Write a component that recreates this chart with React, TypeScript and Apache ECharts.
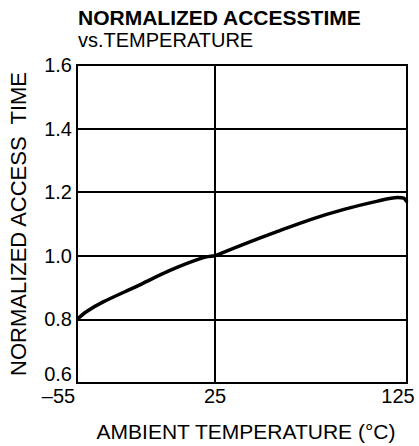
import React, { useEffect, useRef } from 'react';
import * as echarts from 'echarts';

const titleText = 'NORMALIZED ACCESSTIME';
const subtitleText = 'vs.TEMPERATURE';
const yAxisName = 'NORMALIZED ACCESS  TIME';
const xAxisName = 'AMBIENT TEMPERATURE (°C)';
const xTickValues = [-55, 25, 125];
const xTickLabels = ['–55', '25', '125'];
const yTickValues = [0.6, 0.8, 1.0, 1.2, 1.4, 1.6];

const temperatures = [-55, -49.4, -39.8, -20.4, -1.1, 18.2, 25, 39.8, 57.3, 74.7, 92.2, 109.7, 120.1, 123.3, 125];
const accessTime = [0.8, 0.825, 0.855, 0.904, 0.954, 0.994, 1.0, 1.036, 1.076, 1.114, 1.146, 1.172, 1.183, 1.181, 1.169];

const FONT = 'Liberation Sans, Arial, Helvetica, sans-serif';

const points = temperatures.map((t, i) => [t, accessTime[i]]);
const coldSide = points.filter((p) => p[0] <= 25);
const hotSide = points.filter((p) => p[0] >= 25);

const labelFor = (v: number) => {
  const idx = xTickValues.indexOf(Math.round(v));
  return idx >= 0 ? xTickLabels[idx] : '';
};

export default function App() {
  const ref = useRef<HTMLDivElement>(null);
  useEffect(() => {
    if (!ref.current) return;
    const chart = echarts.init(ref.current, null, { renderer: 'svg' });
    const gridCommon = {
      top: 65,
      height: 318,
      show: true,
      borderColor: '#000',
      borderWidth: 2,
      backgroundColor: 'transparent',
      containLabel: false,
    };
    const yCommon = {
      type: 'value',
      min: 0.6,
      max: 1.6,
      interval: 0.2,
      axisLine: { show: false },
      axisTick: { show: false },
      splitLine: { show: true, lineStyle: { color: '#000', width: 2 } },
    };
    const xCommon = {
      type: 'value',
      axisLine: { show: false },
      axisTick: { show: false },
      splitLine: { show: false },
    };
    chart.setOption({
      animation: false,
      backgroundColor: '#fff',
      title: {
        text: titleText,
        subtext: subtitleText,
        left: 78,
        top: 7,
        padding: 0,
        itemGap: 2,
        textStyle: { fontFamily: FONT, fontSize: 21, fontWeight: 'bold', color: '#000', lineHeight: 21 },
        subtextStyle: { fontFamily: FONT, fontSize: 20, color: '#000', lineHeight: 20 },
      },
      grid: [
        { ...gridCommon, left: 77, width: 138 },
        { ...gridCommon, left: 215, width: 192 },
      ],
      xAxis: [
        {
          ...xCommon,
          gridIndex: 0,
          min: -55,
          max: 25,
          axisLabel: {
            customValues: [-55, 25],
            margin: 3,
            fontFamily: FONT,
            fontSize: 20,
            color: '#000',
            formatter: (v: number) => (Math.round(v) === -55 ? '{l|' + labelFor(v) + '}' : labelFor(v)),
            rich: { l: { fontFamily: FONT, fontSize: 20, color: '#000', padding: [0, 37, 0, 0] } },
          },
        },
        {
          ...xCommon,
          gridIndex: 1,
          min: 25,
          max: 125,
          axisLabel: {
            customValues: [125],
            margin: 3,
            fontFamily: FONT,
            fontSize: 20,
            color: '#000',
            formatter: (v: number) => (Math.round(v) === 125 ? '{r|' + labelFor(v) + '}' : ''),
            rich: { r: { fontFamily: FONT, fontSize: 20, color: '#000', padding: [0, 18, 0, 0] } },
          },
        },
      ],
      yAxis: [
        {
          ...yCommon,
          gridIndex: 0,
          name: yAxisName,
          nameLocation: 'middle',
          nameGap: 48,
          nameTextStyle: { fontFamily: FONT, fontSize: 22, color: '#000' },
          axisLabel: {
            margin: 5,
            fontFamily: FONT,
            fontSize: 20,
            color: '#000',
            formatter: (v: number) => {
              const s = v.toFixed(1);
              return Math.abs(v - yTickValues[0]) < 1e-6 ? '{b|' + s + '}' : s;
            },
            rich: { b: { fontFamily: FONT, fontSize: 20, color: '#000', padding: [0, 0, 18, 0] } },
          },
        },
        { ...yCommon, gridIndex: 1, axisLabel: { show: false } },
      ],
      graphic: [
        {
          type: 'text',
          x: 246,
          y: 421,
          style: {
            text: xAxisName,
            textAlign: 'center',
            textVerticalAlign: 'top',
            fontFamily: FONT,
            fontSize: 21,
            fill: '#000',
          },
        },
      ],
      series: [
        {
          type: 'line',
          xAxisIndex: 0,
          yAxisIndex: 0,
          data: coldSide,
          smooth: 0.3,
          symbol: 'none',
          lineStyle: { color: '#000', width: 3.5 },
        },
        {
          type: 'line',
          xAxisIndex: 1,
          yAxisIndex: 1,
          data: hotSide,
          smooth: 0.3,
          symbol: 'none',
          lineStyle: { color: '#000', width: 3.5 },
        },
      ],
    });
    return () => chart.dispose();
  }, []);
  return <div ref={ref} style={{ position: 'fixed', left: 0, top: 0, width: 419, height: 446 }} />;
}
